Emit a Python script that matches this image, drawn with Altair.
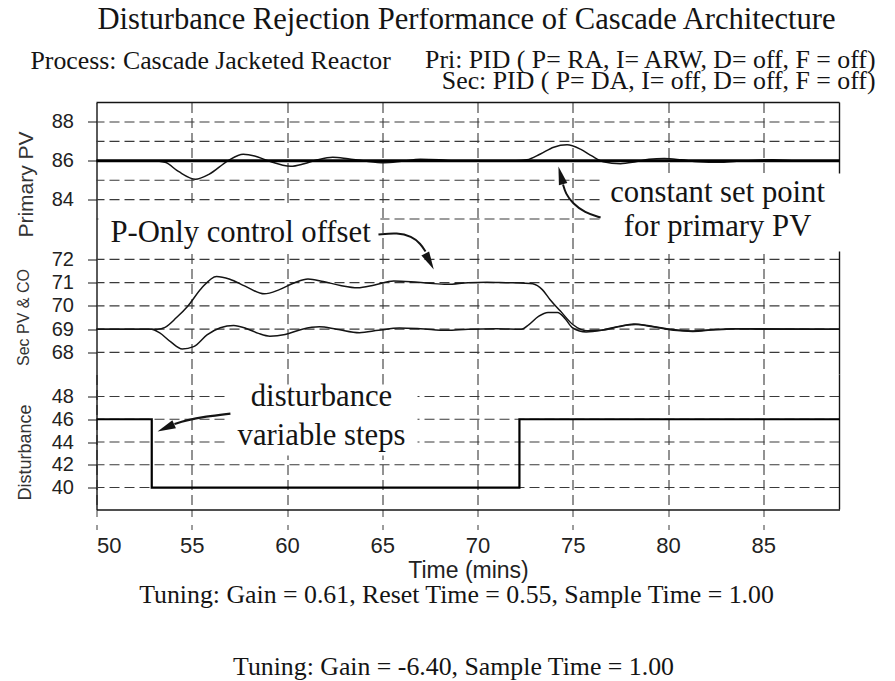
import altair as alt
import pandas as pd

# ---------------- data ----------------
# Primary PV response
pri_t = [50, 53.0, 53.6, 54.3, 55.2, 55.9, 56.9, 57.7, 58.3, 59.0, 60.2, 60.9, 61.6, 62.4, 63.2,
         64.0, 65.1, 66.0, 67.0, 68.0, 69.0, 70.0, 71.0, 72.0, 72.6, 73.3, 74.0, 74.7, 75.4, 76.0,
         76.6, 77.5, 78.3, 79.0, 79.8, 80.7, 81.6, 82.7, 83.6, 84.5, 85.5, 86.5, 89]
pri_v = [86.0, 86.0, 85.92, 85.45, 85.05, 85.3, 86.0, 86.33, 86.25, 86.0, 85.72, 85.85, 86.05, 86.18, 86.1,
         86.0, 85.9, 85.97, 86.08, 86.05, 85.98, 85.97, 86.0, 86.0, 86.05, 86.35, 86.7, 86.82, 86.6, 86.25,
         85.95, 85.85, 85.95, 86.08, 86.12, 86.05, 85.95, 85.92, 85.98, 86.02, 86.05, 86.0, 86.0]
# Primary set point
sp_t = [50, 89]
sp_v = [86.0, 86.0]

# Secondary loop: upper trace (P-only offset) and lower trace
up_t = [50, 53.2, 53.6, 54.2, 54.8, 55.5, 56.3, 57.0, 57.8, 58.8, 59.6, 60.4, 61.1, 61.9, 62.8,
        63.7, 64.6, 65.6, 66.5, 67.5, 68.4, 69.5, 70.5, 71.5, 72.5, 72.9, 73.4, 73.8, 74.35, 75.0,
        75.75, 76.5, 77.4, 78.2, 79.0, 80.1, 81.2, 82.3, 83.5, 85.0, 89]
up_v = [69.0, 69.0, 69.08, 69.5, 70.0, 70.75, 71.27, 71.15, 70.85, 70.52, 70.7, 71.0, 71.16, 71.05, 70.88,
        70.78, 70.9, 71.07, 71.04, 70.97, 70.93, 71.0, 71.02, 71.0, 70.98, 70.95, 70.7, 70.28, 69.78, 69.2,
        68.93, 68.95, 69.1, 69.22, 69.15, 69.0, 68.92, 68.98, 69.02, 69.0, 69.0]
lo_t = [50, 52.9, 53.3, 53.9, 54.5, 55.1, 55.8, 56.5, 57.2, 57.9, 58.5, 59.1, 59.9, 60.8, 61.7,
        62.6, 63.8, 64.8, 65.9, 67.0, 68.4, 69.5, 71.0, 72.3, 72.7, 73.2, 73.7, 74.2, 74.6, 75.0,
        75.7, 76.5, 77.4, 78.3, 79.2, 80.3, 81.3, 82.4, 84.0, 89]
lo_v = [69.0, 69.0, 68.85, 68.45, 68.15, 68.25, 68.75, 69.06, 69.16, 69.02, 68.82, 68.7, 68.77, 69.0, 69.1,
        69.0, 68.85, 68.95, 69.05, 69.02, 68.95, 69.0, 69.02, 69.0, 69.2, 69.55, 69.72, 69.72, 69.45, 69.05,
        68.88, 68.95, 69.12, 69.2, 69.1, 68.95, 68.9, 68.97, 69.02, 69.0]

# Disturbance variable steps
dist_t = [50, 52.9, 72.2, 89]
dist_v = [46, 40, 46, 46]

# Axis ticks and gridlines
x_ticks = [50, 55, 60, 65, 70, 75, 80, 85]
x_grid = [55, 60, 65, 70, 75, 80, 85]
y1_ticks = [84, 86, 88]
y1_grid = [83, 84, 85, 86, 87, 88]
y2_ticks = [68, 69, 70, 71, 72]
y2_grid = [68, 69, 70, 71, 72]
y3_ticks = [40, 42, 44, 46, 48]
y3_grid = [40, 42, 44, 46, 48]

# Annotations (data coordinates of each panel)
ann2_label = ["P-Only control offset", "constant set point", "for primary PV"]
ann2_t = [50.73, 82.6, 82.6]
ann2_v = [72.77, 74.45, 72.99]
ann2_align = ["left", "center", "center"]
box2_t1 = [50.1, 76.46]
box2_t2 = [64.9, 89.3]
box2_v1 = [72.25, 72.34]
box2_v2 = [74.32, 75.70]
arrow_a_t = [64.80, 65.80, 66.54, 67.01, 67.27]
arrow_a_v = [73.07, 73.16, 72.99, 72.68, 72.34]
arrow_b_t = [76.46, 75.62, 74.99, 74.62, 74.49]
arrow_b_v = [73.80, 74.02, 74.41, 74.84, 75.22]
head2_t = [67.48, 74.37]
head2_v = [71.91, 75.62]
head2_angle = [152, 345]

ann3_label = ["disturbance", "variable steps"]
ann3_t = [61.81, 61.81]
ann3_v = [47.12, 43.78]
box3_t1 = [56.88]
box3_t2 = [66.85]
box3_v1 = [42.81]
box3_v2 = [49.05]
arrow_c_t = [57.03, 55.72, 54.67, 54.09]
arrow_c_v = [46.50, 46.24, 45.89, 45.58]
head3_t = [53.64]
head3_v = [45.24]
head3_angle = [246]

# ---------------- styling ----------------
SERIF = "Liberation Serif"
SANS = "Liberation Sans"
INK = "#141414"
GRID = "#3a3a3a"
DASH = [10, 5]
W = 743
H1, H2, H3 = 136, 136, 135
X_DOM = [50, 89]
Y1_DOM = [82, 89]
Y2_DOM = [67.05, 72.9]
Y3_DOM = [38.07, 49.93]
HEAD = "M0,-1L0.48,1L-0.48,1Z"
ANN = 30.7
SUB = 25.8

one = pd.DataFrame({"k": [0]})

xscale = alt.Scale(domain=X_DOM, nice=False, zero=False)
x_grid_axis = alt.Axis(values=x_grid, grid=True, gridDash=DASH, gridColor=GRID, gridWidth=1.1,
                       labels=False, ticks=False, domain=False, title=None)
x_bottom_axis = alt.Axis(values=x_ticks, grid=True, gridDash=DASH, gridColor=GRID, gridWidth=1.1,
                         labels=True, labelFont=SANS, labelFontSize=22, labelColor="#222",
                         labelPadding=6, ticks=True, tickSize=20, tickDash=[7, 8], tickColor=GRID,
                         domain=True, domainColor=INK, domainWidth=1.4,
                         title="Time (mins)", titleFont=SANS, titleFontSize=23,
                         titleFontWeight="normal", titleColor="#222", titlePadding=3)


def yaxis(vals):
    return alt.Axis(values=vals, grid=False, labelFont=SANS, labelFontSize=20, labelColor="#222",
                    tickSize=9, tickColor=INK, labelPadding=14, domain=True, domainColor=INK,
                    domainWidth=1.4, title=None)


def X(field, axis):
    return alt.X(field, type="quantitative", scale=xscale, axis=axis)


def Y(field, dom, ticks):
    return alt.Y(field, type="quantitative", scale=alt.Scale(domain=dom, nice=False, zero=False),
                 axis=yaxis(ticks))


def gridrules(vals, dom, ticks):
    return alt.Chart(pd.DataFrame({"v": vals})).mark_rule(
        strokeDash=DASH, color=GRID, strokeWidth=1.1).encode(y=Y("v", dom, ticks))


def right_frame(h):
    return alt.Chart(one).mark_rule(color=INK, strokeWidth=1.4).encode(
        x=alt.value(W), y=alt.value(0), y2=alt.value(h))


def ytitle(text, x, y, size):
    return alt.Chart(one).mark_text(font=SANS, fontSize=size, angle=270, color="#333",
                                    baseline="middle", align="center").encode(
        x=alt.value(x), y=alt.value(y), text=alt.value(text))


def free_text(text, x, y, size, align="left", font=SERIF):
    return alt.Chart(one).mark_text(font=font, fontSize=size, color=INK, align=align,
                                    baseline="alphabetic").encode(
        x=alt.value(x), y=alt.value(y), text=alt.value(text))


# ---------------- panel 1 : Primary PV ----------------
pri_df = pd.DataFrame({"t": pri_t, "v": pri_v})
sp_df = pd.DataFrame({"t": sp_t, "v": sp_v})

p1 = alt.layer(
    gridrules(y1_grid, Y1_DOM, y1_ticks),
    alt.Chart(one).mark_rule(color=INK, strokeWidth=1.4).encode(
        x=alt.value(0), x2=alt.value(W), y=alt.value(0)),
    right_frame(H1),
    alt.Chart(pri_df).mark_line(color=INK, strokeWidth=1.5, interpolate="monotone").encode(
        x=X("t", x_grid_axis), y=Y("v", Y1_DOM, y1_ticks)),
    alt.Chart(sp_df).mark_line(color="#000", strokeWidth=3).encode(
        x=X("t", x_grid_axis), y=Y("v", Y1_DOM, y1_ticks)),
    free_text("Disturbance Rejection Performance of Cascade Architecture", 370, -74, 30.6, "center"),
    free_text("Process: Cascade Jacketed Reactor", -66, -34, SUB, "left"),
    free_text("Pri: PID ( P= RA, I= ARW, D= off, F = off)", 779, -35, SUB, "right"),
    free_text("Sec: PID ( P= DA, I= off, D= off, F = off)", 779, -14, SUB, "right"),
    ytitle("Primary PV", -70, 82, 21),
).properties(width=W, height=H1)

# ---------------- panel 2 : Sec PV & CO ----------------
sec_df = pd.concat([
    pd.DataFrame({"t": up_t, "v": up_v, "s": "upper"}),
    pd.DataFrame({"t": lo_t, "v": lo_v, "s": "lower"}),
])
box2_df = pd.DataFrame({"t1": box2_t1, "t2": box2_t2, "v1": box2_v1, "v2": box2_v2})
ann2_df = pd.DataFrame({"t": ann2_t, "v": ann2_v, "label": ann2_label, "al": ann2_align})
arr2_df = pd.concat([
    pd.DataFrame({"t": arrow_a_t, "v": arrow_a_v, "a": "a", "o": range(len(arrow_a_t))}),
    pd.DataFrame({"t": arrow_b_t, "v": arrow_b_v, "a": "b", "o": range(len(arrow_b_t))}),
])
head2_df = pd.DataFrame({"t": head2_t, "v": head2_v, "ang": head2_angle})

p2 = alt.layer(
    gridrules(y2_grid, Y2_DOM, y2_ticks),
    right_frame(H2),
    alt.Chart(sec_df).mark_line(color=INK, strokeWidth=1.5, interpolate="monotone").encode(
        x=X("t", x_grid_axis), y=Y("v", Y2_DOM, y2_ticks), detail="s:N"),
    alt.Chart(box2_df).mark_rect(color="white").encode(
        x=X("t1", x_grid_axis), x2="t2", y=Y("v1", Y2_DOM, y2_ticks), y2="v2"),
    alt.Chart(ann2_df[ann2_df.al == "left"]).mark_text(
        font=SERIF, fontSize=ANN, color=INK, align="left", baseline="alphabetic").encode(
        x=X("t", x_grid_axis), y=Y("v", Y2_DOM, y2_ticks), text="label:N"),
    alt.Chart(ann2_df[ann2_df.al == "center"]).mark_text(
        font=SERIF, fontSize=ANN, color=INK, align="center", baseline="alphabetic").encode(
        x=X("t", x_grid_axis), y=Y("v", Y2_DOM, y2_ticks), text="label:N"),
    alt.Chart(arr2_df).mark_line(color=INK, strokeWidth=2, interpolate="basis").encode(
        x=X("t", x_grid_axis), y=Y("v", Y2_DOM, y2_ticks), detail="a:N", order="o:Q"),
    alt.Chart(head2_df).mark_point(shape=HEAD, filled=True, size=330, color=INK, opacity=1).encode(
        x=X("t", x_grid_axis), y=Y("v", Y2_DOM, y2_ticks), angle=alt.Angle("ang:Q", scale=None)),
    ytitle("Sec PV & CO", -73, 79, 16),
).properties(width=W, height=H2)

# ---------------- panel 3 : Disturbance ----------------
dist_df = pd.DataFrame({"t": dist_t, "v": dist_v})
box3_df = pd.DataFrame({"t1": box3_t1, "t2": box3_t2, "v1": box3_v1, "v2": box3_v2})
ann3_df = pd.DataFrame({"t": ann3_t, "v": ann3_v, "label": ann3_label})
arr3_df = pd.DataFrame({"t": arrow_c_t, "v": arrow_c_v, "o": range(len(arrow_c_t))})
head3_df = pd.DataFrame({"t": head3_t, "v": head3_v, "ang": head3_angle})

p3 = alt.layer(
    gridrules(y3_grid, Y3_DOM, y3_ticks),
    right_frame(H3),
    alt.Chart(dist_df).mark_line(color="#000", strokeWidth=2.2, interpolate="step-after").encode(
        x=X("t", x_bottom_axis), y=Y("v", Y3_DOM, y3_ticks)),
    alt.Chart(box3_df).mark_rect(color="white").encode(
        x=X("t1", x_bottom_axis), x2="t2", y=Y("v1", Y3_DOM, y3_ticks), y2="v2"),
    alt.Chart(ann3_df).mark_text(font=SERIF, fontSize=ANN, color=INK, align="center",
                                 baseline="alphabetic").encode(
        x=X("t", x_bottom_axis), y=Y("v", Y3_DOM, y3_ticks), text="label:N"),
    alt.Chart(arr3_df).mark_line(color=INK, strokeWidth=2.2, interpolate="basis").encode(
        x=X("t", x_bottom_axis), y=Y("v", Y3_DOM, y3_ticks), order="o:Q"),
    alt.Chart(head3_df).mark_point(shape=HEAD, filled=True, size=330, color=INK, opacity=1).encode(
        x=X("t", x_bottom_axis), y=Y("v", Y3_DOM, y3_ticks), angle=alt.Angle("ang:Q", scale=None)),
    free_text("Tuning: Gain = 0.61, Reset Time = 0.55, Sample Time = 1.00", 360, 228, SUB, "center"),
    free_text("Tuning: Gain = -6.40, Sample Time = 1.00", 357, 300, SUB, "center"),
    ytitle("Disturbance", -71, 78, 18),
).properties(width=W, height=H3)

chart = alt.vconcat(p1, p2, p3, spacing=0, bounds="flush").properties(
    padding={"left": 7.5, "top": -3.5, "right": 5, "bottom": 0},
    background="white",
).configure_view(stroke=None)

chart.save("out.html", embed_options={"renderer": "svg", "actions": False})
